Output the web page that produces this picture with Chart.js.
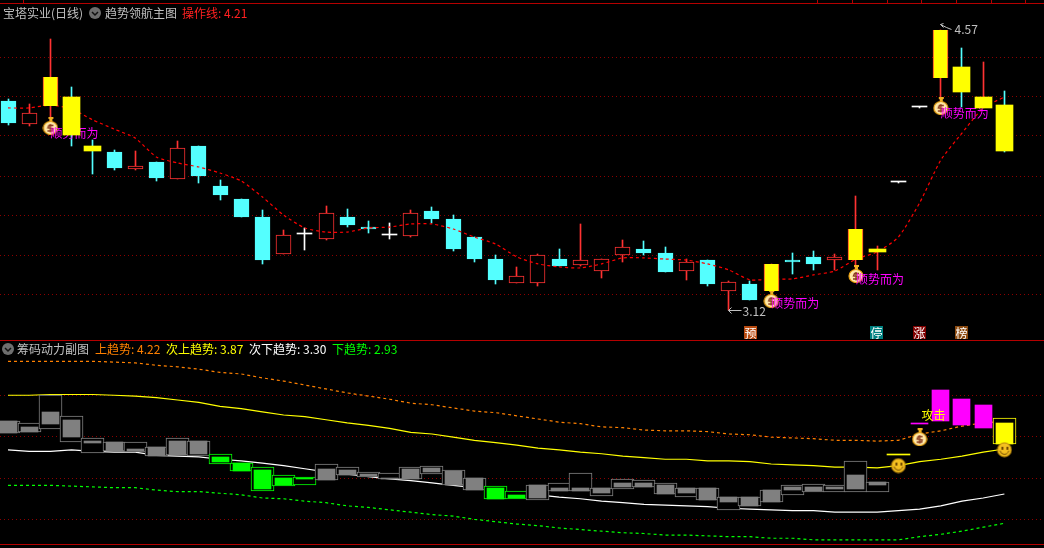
<!DOCTYPE html>
<html>
<head>
<meta charset="utf-8">
<title>宝塔实业(日线)</title>
<script src="https://cdn.jsdelivr.net/npm/chart.js@4/dist/chart.umd.min.js"></script>
<style>
  html, body { margin: 0; padding: 0; background: #000; }
  #page { position: relative; width: 1044px; height: 548px; overflow: hidden; background: #000; }
  canvas { position: absolute; left: 0; }
  #priceChart { top: 0; }
  #chipChart { top: 340px; }
  .txt { position: absolute; font: 12px "Noto Sans CJK SC", sans-serif; line-height: 14px; white-space: pre; }
  .rule { position: absolute; background: #b40000; }
  .badge { position: absolute; top: 326px; width: 13px; height: 13px; line-height: 13px; text-align: center;
           color: #fff; font: 12px/13px "Noto Sans CJK SC", sans-serif; }
  svg { position: absolute; }
</style>
</head>
<body>
<div id="page">
  <canvas id="priceChart" width="1044" height="340"></canvas>
  <canvas id="chipChart" width="1044" height="208"></canvas>

  <!-- frame lines -->
  <div class="rule" style="left:0;top:3px;width:1044px;height:1px"></div>
  <div class="rule" style="left:0;top:340px;width:1044px;height:1px"></div>
  <div class="rule" style="left:0;top:544px;width:1044px;height:1px"></div>
  <div class="rule" style="left:23px;top:0;width:1px;height:3px"></div>
  <div class="rule" style="left:817px;top:0;width:1px;height:3px"></div>
  <div class="rule" style="left:852px;top:0;width:1px;height:3px"></div>
  <div class="rule" style="left:887px;top:0;width:1px;height:3px"></div>
  <div class="rule" style="left:921px;top:0;width:1px;height:3px"></div>
  <div class="rule" style="left:956px;top:0;width:1px;height:3px"></div>
  <div class="rule" style="left:991px;top:0;width:1px;height:3px"></div>
  <div class="rule" style="left:1025px;top:0;width:1px;height:3px"></div>

  <!-- top header -->
  <span class="txt" style="left:3px;top:6px;color:#c0c0c0">宝塔实业(日线)</span>
  <svg style="left:89px;top:7px" width="12" height="12"><circle cx="6" cy="6" r="6" fill="#6e6e6e"/><path d="M3 5l3 3 3-3" stroke="#111" stroke-width="1.5" fill="none"/></svg>
  <span class="txt" style="left:105px;top:6px;color:#c0c0c0">趋势领航主图</span>
  <span class="txt" style="left:182px;top:6px;color:#ff2020">操作线: 4.21</span>

  <!-- lower header -->
  <svg style="left:2px;top:343px" width="12" height="12"><circle cx="6" cy="6" r="6" fill="#6e6e6e"/><path d="M3 5l3 3 3-3" stroke="#111" stroke-width="1.5" fill="none"/></svg>
  <span class="txt" style="left:17px;top:342px;color:#c0c0c0">筹码动力副图</span>
  <span class="txt" style="left:95px;top:342px;color:#ff8000">上趋势: 4.22</span>
  <span class="txt" style="left:166px;top:342px;color:#ffff00">次上趋势: 3.87</span>
  <span class="txt" style="left:249px;top:342px;color:#ffffff">次下趋势: 3.30</span>
  <span class="txt" style="left:332px;top:342px;color:#00ff00">下趋势: 2.93</span>

  <!-- event badges -->
  <span class="badge" style="left:744px;background:#b84a10">预</span>
  <span class="badge" style="left:870px;background:#008080">停</span>
  <span class="badge" style="left:913px;background:#800000">涨</span>
  <span class="badge" style="left:955px;background:#8b4a10">榜</span>
</div>

<script>
// =================================================================
// 1. DATA
// =================================================================

// daily candles, price in yuan (first day on the left)
var opens  = [4.202,4.083,4.176,4.223,3.969,3.938,3.850,3.886,3.798,3.969,3.762,3.694,3.601,3.409,3.513,3.487,3.601,3.549,3.508,3.503,3.632,3.591,3.497,3.383,3.259,3.259,3.383,3.352,3.321,3.404,3.435,3.415,3.321,3.378,3.218,3.254,3.218,3.378,3.394,3.378,3.378,3.420,3.783,4.171,4.321,4.378,4.166,4.181];
var closes = [4.088,4.140,4.326,4.026,3.943,3.855,3.865,3.803,3.959,3.813,3.715,3.601,3.378,3.508,3.513,3.622,3.560,3.539,3.508,3.622,3.591,3.435,3.383,3.275,3.295,3.404,3.347,3.378,3.383,3.446,3.415,3.316,3.368,3.254,3.264,3.171,3.358,3.368,3.358,3.394,3.539,3.435,3.783,4.171,4.570,4.249,4.223,3.943];
var highs  = [4.212,4.187,4.523,4.275,4.000,3.948,3.943,3.886,3.995,3.969,3.793,3.694,3.637,3.534,3.544,3.658,3.643,3.580,3.570,3.637,3.653,3.611,3.497,3.404,3.342,3.409,3.435,3.565,3.383,3.482,3.477,3.446,3.383,3.378,3.270,3.270,3.358,3.415,3.425,3.409,3.710,3.451,3.783,4.171,4.570,4.477,4.404,4.254];
var lows   = [4.078,4.073,4.083,3.969,3.824,3.845,3.845,3.788,3.798,3.777,3.689,3.601,3.358,3.409,3.430,3.482,3.549,3.518,3.487,3.497,3.570,3.425,3.368,3.254,3.259,3.244,3.347,3.347,3.285,3.368,3.404,3.316,3.275,3.244,3.120,3.171,3.207,3.306,3.327,3.327,3.316,3.327,3.783,4.171,4.207,4.171,4.166,3.938];

// 操作线
var operateLine = [4.166,4.166,4.181,4.161,4.104,4.057,4.010,3.912,3.881,3.860,3.829,3.788,3.705,3.611,3.544,3.523,3.523,3.544,3.549,3.565,3.565,3.539,3.497,3.461,3.394,3.358,3.342,3.337,3.358,3.389,3.389,3.383,3.378,3.358,3.327,3.275,3.280,3.280,3.301,3.321,3.383,3.420,3.497,3.674,3.896,4.036,4.166,4.223];

// days painted yellow by the indicator
var yellowEdgeDays = [2,36,40,44];
var yellowWideDays = [3,4,41,45,46,47];

// 顺势而为 signals: day, price of the money bag, price of the text
var signalDays   = [2,36,40,44];
var signalBags   = [4.073,3.176,3.306,4.176];
var signalLabels = [4.036,3.155,3.275,4.140];
var signalText   = '顺势而为';

// price gridlines
var priceGrid = [4.425,4.223,4.021,3.813,3.611,3.404,3.202];

// lower panel: 上趋势 / 次上趋势 / 次下趋势 / 下趋势
var upperTrend  = [4.98,4.98,4.98,4.98,4.98,4.97,4.96,4.93,4.91,4.88,4.84,4.82,4.77,4.73,4.68,4.63,4.58,4.54,4.50,4.45,4.43,4.39,4.35,4.33,4.29,4.25,4.21,4.19,4.15,4.14,4.11,4.10,4.10,4.09,4.06,4.05,4.02,4.01,4.00,3.98,3.98,3.97,3.98,4.06,4.10,4.16,4.20,4.22];
var upper2Trend = [4.55,4.55,4.56,4.56,4.56,4.55,4.54,4.52,4.49,4.46,4.41,4.38,4.34,4.30,4.28,4.24,4.20,4.17,4.13,4.08,4.06,4.02,3.98,3.95,3.92,3.88,3.86,3.83,3.81,3.78,3.76,3.74,3.74,3.72,3.72,3.71,3.68,3.67,3.66,3.64,3.64,3.63,3.66,3.71,3.74,3.78,3.83,3.87];
var lower2Trend = [3.86,3.84,3.84,3.86,3.84,3.83,3.83,3.79,3.78,3.77,3.74,3.72,3.69,3.66,3.62,3.58,3.55,3.52,3.49,3.47,3.44,3.41,3.38,3.34,3.31,3.29,3.26,3.24,3.21,3.19,3.17,3.16,3.15,3.14,3.12,3.11,3.10,3.09,3.09,3.07,3.07,3.07,3.09,3.11,3.15,3.21,3.25,3.30];
var lowerTrend  = [3.41,3.41,3.41,3.40,3.39,3.38,3.38,3.35,3.33,3.33,3.31,3.29,3.25,3.24,3.21,3.19,3.15,3.13,3.10,3.07,3.04,3.02,2.98,2.95,2.92,2.90,2.87,2.85,2.83,2.81,2.80,2.78,2.78,2.77,2.76,2.76,2.74,2.74,2.72,2.72,2.72,2.72,2.72,2.76,2.79,2.83,2.88,2.93];

// chip boxes: outer frame and inner block of each day
var frameHigh = [4.22,4.20,4.55,4.29,4.01,3.96,3.96,3.90,4.01,3.97,3.81,3.69,3.64,3.54,3.52,3.68,3.64,3.58,3.57,3.64,3.65,3.60,3.50,3.40,3.34,3.41,3.44,3.57,3.38,3.49,3.48,3.44,3.38,3.38,3.26,3.26,3.35,3.41,3.43,3.41,3.72,3.45,3.79,null,null,null,null,4.26];
var frameLow  = [4.07,4.09,4.12,3.96,3.82,3.84,3.83,3.78,3.79,3.78,3.68,3.59,3.34,3.40,3.41,3.48,3.54,3.52,3.49,3.49,3.55,3.41,3.35,3.24,3.24,3.22,3.34,3.34,3.27,3.36,3.39,3.30,3.26,3.22,3.10,3.15,3.20,3.29,3.33,3.33,3.33,3.33,3.79,null,null,null,null,3.93];
var coreHigh  = [4.22,4.15,4.34,4.24,3.97,3.96,3.87,3.90,3.97,3.97,3.77,3.69,3.60,3.50,3.50,3.62,3.60,3.55,3.50,3.62,3.63,3.59,3.50,3.38,3.29,3.41,3.38,3.38,3.38,3.44,3.44,3.41,3.38,3.38,3.26,3.26,3.35,3.39,3.39,3.39,3.54,3.45,null,4.19,4.62,4.50,4.43,4.20];
var coreLow   = [4.07,4.09,4.19,4.02,3.95,3.84,3.84,3.78,3.79,3.81,3.70,3.59,3.36,3.41,3.49,3.48,3.54,3.53,3.49,3.49,3.58,3.41,3.35,3.24,3.25,3.25,3.34,3.34,3.31,3.39,3.39,3.30,3.31,3.22,3.20,3.15,3.20,3.35,3.34,3.36,3.36,3.41,null,4.19,4.22,4.17,4.14,3.93];
var greenDays   = [10,11,12,13,14,23,24];
var magentaDays = [43,44,45,46];
var yellowDays  = [42,47];

// chip gridlines and the markers of the lower panel
var chipGrid = [4.55,4.03,3.50,2.98];
var attackBagDay = 43, attackBagValue = 4.02;
var attackTextValue = 4.29;
var smileDays = [42,47];
var smileValues = [3.66,3.86];

// =================================================================
// 2. HELPERS
// =================================================================

var RED = '#ff3232', CYAN = '#54ffff', YELLOW = '#ffff00', GRAY = '#808080';
var FONT = '12px "Noto Sans CJK SC", sans-serif';

function points(values) {
    return values.map(function (v, i) { return { x: i, y: v }; });
}

function rangePoints(days, top, bottom) {
    return days.map(function (d) { return { x: d, y: [top[d], bottom[d]] }; });
}

function allDays() {
    return opens.map(function (v, i) { return i; });
}

// same x mapping on both panels
function dayAxis() {
    return { type: 'linear', display: false, offset: false, min: -0.3774, max: 48.868 };
}

function gridAxis(min, max, ticks) {
    return {
        min: min, max: max, position: 'left',
        afterBuildTicks: function (scale) {
            scale.ticks = ticks.map(function (v) { return { value: v }; });
        },
        ticks: { display: false },
        border: { display: false, dash: [1, 3] },
        grid: { color: '#8c0000', drawTicks: false, tickLength: 0 }
    };
}

// bars are drawn on whole pixels, the way the original does
var snapBars = {
    id: 'snapBars',
    afterDatasetsUpdate: function (chart) {
        chart.getSortedVisibleDatasetMetas().forEach(function (meta) {
            if (meta.type !== 'bar') return;
            meta.data.forEach(function (el) {
                el.x = Math.floor(el.x) + 0.5;
                el.y = Math.round(el.y);
                el.base = Math.round(el.base);
                if (el.y === el.base) el.base = el.y + 1;
            });
        });
    }
};

function makeBag() {
    var c = document.createElement('canvas');
    c.width = 16; c.height = 18;
    var g = c.getContext('2d');
    g.fillStyle = '#f0b020';
    g.fillRect(6, 0, 5, 2);
    g.fillRect(7, 2, 3, 3);
    g.beginPath();
    g.ellipse(8, 11, 7, 6.5, 0, 0, Math.PI * 2);
    g.fillStyle = '#ffe9a8';
    g.fill();
    g.lineWidth = 1.2;
    g.strokeStyle = '#e8a010';
    g.stroke();
    g.strokeStyle = '#8a3a20';
    g.lineWidth = 1.4;
    g.beginPath();
    g.moveTo(11, 8.5); g.lineTo(6.5, 8.5); g.lineTo(5.5, 11); g.lineTo(10.5, 11.5); g.lineTo(10, 14); g.lineTo(5, 14);
    g.moveTo(8, 7); g.lineTo(8, 15.5);
    g.stroke();
    return c;
}

function makeSmile() {
    var c = document.createElement('canvas');
    c.width = 16; c.height = 16;
    var g = c.getContext('2d');
    g.beginPath();
    g.arc(8, 8, 7, 0, Math.PI * 2);
    g.fillStyle = '#f4c020';
    g.fill();
    g.strokeStyle = '#b88408';
    g.stroke();
    g.fillStyle = '#704800';
    g.fillRect(5, 5, 2, 3);
    g.fillRect(10, 5, 2, 3);
    g.beginPath();
    g.arc(8, 8, 4.5, 0.2, Math.PI - 0.2);
    g.strokeStyle = '#704800';
    g.stroke();
    return c;
}

// =================================================================
// 3. UPPER PANEL: CANDLES
// =================================================================

var yellowAll = yellowEdgeDays.concat(yellowWideDays);
var normalDays = allDays().filter(function (d) { return yellowAll.indexOf(d) < 0; });

function wickColor(d) {
    if (opens[d] === closes[d]) return '#ffffff';
    return closes[d] > opens[d] ? RED : CYAN;
}
function bodyFill(d) {
    if (opens[d] === closes[d]) return '#ffffff';
    return closes[d] > opens[d] ? '#000000' : CYAN;
}

var bag = makeBag();

// text goes above the bags but below the yellow bodies
var signalPlugin = {
    id: 'signalPlugin',
    afterDatasetDraw: function (chart, args) {
        if (chart.data.datasets[args.index].label !== 'bags') return;
        var ctx = chart.ctx, x = chart.scales.x, y = chart.scales.y;
        ctx.save();
        ctx.font = FONT;
        ctx.fillStyle = '#ff00ff';
        ctx.textBaseline = 'middle';
        signalDays.forEach(function (d, i) {
            ctx.fillText(signalText, x.getPixelForValue(d), y.getPixelForValue(signalLabels[i]));
        });
        ctx.restore();
    },
    afterDatasetsDraw: function (chart) {
        var ctx = chart.ctx, x = chart.scales.x, y = chart.scales.y;
        ctx.save();
        ctx.font = FONT;
        ctx.fillStyle = ctx.strokeStyle = '#c0c0c0';
        ctx.textBaseline = 'middle';
        // lowest price
        var lowDay = lows.indexOf(Math.min.apply(null, lows));
        var lx = Math.floor(x.getPixelForValue(lowDay)) + 0.5, ly = Math.round(y.getPixelForValue(lows[lowDay])) + 0.5;
        ctx.beginPath();
        ctx.moveTo(lx + 13, ly); ctx.lineTo(lx, ly); ctx.lineTo(lx + 3, ly - 3); ctx.moveTo(lx, ly); ctx.lineTo(lx + 3, ly + 3);
        ctx.stroke();
        ctx.fillText(lows[lowDay].toFixed(2), lx + 14, ly + 1);
        // highest price
        var highDay = highs.indexOf(Math.max.apply(null, highs));
        var hx = Math.floor(x.getPixelForValue(highDay)) + 0.5, hy = Math.round(y.getPixelForValue(highs[highDay])) + 0.5;
        ctx.beginPath();
        ctx.moveTo(hx + 11, hy - 1); ctx.lineTo(hx + 6, hy - 3); ctx.lineTo(hx, hy - 6); ctx.lineTo(hx + 3, hy - 7); ctx.moveTo(hx, hy - 6); ctx.lineTo(hx + 3, hy - 3);
        ctx.stroke();
        ctx.fillText(highs[highDay].toFixed(2), hx + 14, hy - 1);
        ctx.restore();
    }
};

new Chart(document.getElementById('priceChart'), {
    type: 'bar',
    data: {
        datasets: [
            {
                label: 'wicks', order: 6, grouped: false, barThickness: 1,
                data: rangePoints(allDays(), highs, lows),
                backgroundColor: allDays().map(wickColor)
            },
            {
                label: 'bodies', order: 5, grouped: false, barThickness: 15, minBarLength: 1, borderSkipped: false,
                data: rangePoints(normalDays, opens, closes),
                backgroundColor: normalDays.map(bodyFill),
                borderColor: normalDays.map(wickColor),
                borderWidth: normalDays.map(function (d) { return opens[d] === closes[d] ? 0 : 1; })
            },
            {
                type: 'line', label: 'operate', order: 4,
                data: points(operateLine),
                borderColor: '#ff0000', borderWidth: 1.2, borderDash: [3, 3], pointRadius: 0, tension: 0.2
            },
            {
                type: 'line', label: 'bags', order: 3, showLine: false,
                data: signalDays.map(function (d, i) { return { x: d, y: signalBags[i] }; }),
                pointStyle: bag, pointRadius: 8
            },
            {
                label: 'yellowEdge', order: 2, grouped: false, barThickness: 15, borderSkipped: false,
                data: rangePoints(yellowEdgeDays, opens, closes),
                backgroundColor: YELLOW, borderColor: RED,
                borderWidth: { left: 1, right: 1, top: 0, bottom: 0 }
            },
            {
                label: 'yellowWide', order: 1, grouped: false, barThickness: 17, minBarLength: 1,
                data: rangePoints(yellowWideDays, opens, closes),
                backgroundColor: YELLOW
            }
        ]
    },
    options: {
        responsive: false,
        animation: false,
        events: [],
        layout: { padding: 0, autoPadding: false },
        plugins: { legend: { display: false }, tooltip: { enabled: false }, title: { display: false } },
        scales: { x: dayAxis(), y: gridAxis(2.9637, 4.7254, priceGrid) }
    },
    plugins: [snapBars, signalPlugin]
});

// =================================================================
// 4. LOWER PANEL: CHIP BOXES
// =================================================================

function chipColor(d) {
    if (greenDays.indexOf(d) >= 0) return '#00ff00';
    if (magentaDays.indexOf(d) >= 0) return '#ff00ff';
    if (yellowDays.indexOf(d) >= 0) return YELLOW;
    return GRAY;
}

var frameDays = allDays().filter(function (d) { return frameHigh[d] !== null; });
var coreDays = allDays().filter(function (d) { return coreHigh[d] !== null; });
var smile = makeSmile();

var attackPlugin = {
    id: 'attackPlugin',
    afterDatasetsDraw: function (chart) {
        var ctx = chart.ctx, x = chart.scales.x, y = chart.scales.y;
        ctx.save();
        ctx.font = FONT;
        ctx.fillStyle = YELLOW;
        ctx.textBaseline = 'middle';
        ctx.fillText('攻击', x.getPixelForValue(attackBagDay) + 2, y.getPixelForValue(attackTextValue));
        ctx.restore();
    }
};

function trendLine(values, color, dash, order) {
    return {
        type: 'line', order: order, data: points(values),
        borderColor: color, borderWidth: 1.2, borderDash: dash, pointRadius: 0, tension: 0
    };
}

new Chart(document.getElementById('chipChart'), {
    type: 'bar',
    data: {
        datasets: [
            trendLine(upperTrend, '#ff8000', [3, 3], 8),
            trendLine(upper2Trend, YELLOW, [], 8),
            trendLine(lower2Trend, '#ffffff', [], 8),
            trendLine(lowerTrend, '#00ff00', [3, 3], 8),
            {
                label: 'frames', order: 5, grouped: false, barThickness: 23, minBarLength: 1, borderSkipped: false,
                data: rangePoints(frameDays, frameHigh, frameLow),
                backgroundColor: '#000000',
                borderColor: frameDays.map(chipColor),
                borderWidth: frameDays.map(function (d) { return frameHigh[d] === frameLow[d] ? 0 : 1; })
            },
            {
                label: 'flat', order: 4, grouped: false, barThickness: 23, minBarLength: 1,
                data: rangePoints(frameDays.filter(function (d) { return frameHigh[d] === frameLow[d]; }), frameHigh, frameLow),
                backgroundColor: YELLOW
            },
            {
                label: 'cores', order: 3, grouped: false, barThickness: 17, minBarLength: 1,
                data: rangePoints(coreDays, coreHigh, coreLow),
                backgroundColor: coreDays.map(chipColor)
            },
            {
                type: 'line', label: 'attackBag', order: 2, showLine: false,
                data: [{ x: attackBagDay, y: attackBagValue }],
                pointStyle: bag, pointRadius: 8
            },
            {
                type: 'line', label: 'smiles', order: 1, showLine: false,
                data: smileDays.map(function (d, i) { return { x: d, y: smileValues[i] }; }),
                pointStyle: smile, pointRadius: 8
            }
        ]
    },
    options: {
        responsive: false,
        animation: false,
        events: [],
        layout: { padding: 0, autoPadding: false },
        plugins: { legend: { display: false }, tooltip: { enabled: false }, title: { display: false } },
        scales: { x: dayAxis(), y: gridAxis(2.6167, 5.2497, chipGrid) }
    },
    plugins: [snapBars, attackPlugin]
});
</script>
</body>
</html>
